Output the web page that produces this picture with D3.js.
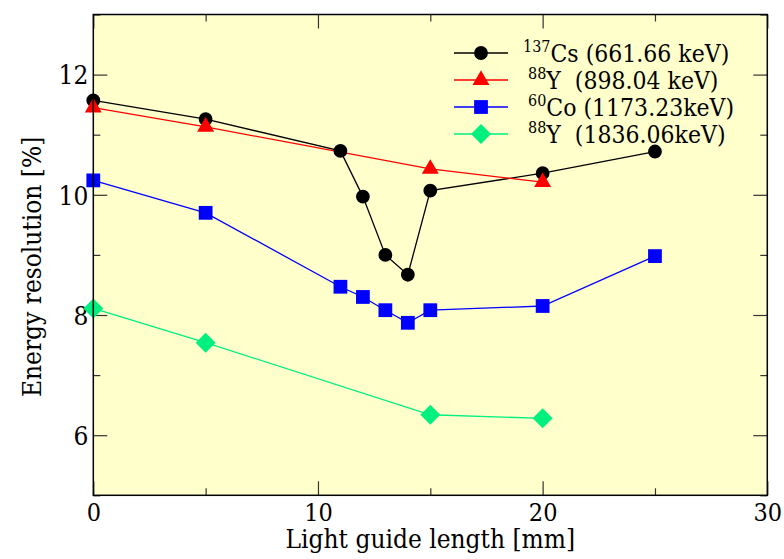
<!DOCTYPE html>
<html>
<head>
<meta charset="utf-8">
<script src="https://cdn.jsdelivr.net/npm/d3@7"></script>
<style>
  html, body { margin: 0; padding: 0; background: #fff; }
  svg text { font-family: "DejaVu Serif Condensed", "DejaVu Serif", serif !important; font-stretch: condensed; }
</style>
</head>
<body>
<div id="chart"></div>
<script>
// light guide length [mm] vs energy resolution [%]
const csLength = [0, 5, 11, 12, 13, 14, 15, 20, 25];
const csResolution = [11.57, 11.26, 10.73, 9.97, 9.0, 8.67, 10.07, 10.36, 10.72];

const y898Length = [0, 5, 15, 20];
const y898Resolution = [11.45, 11.13, 10.43, 10.21];

const coLength = [0, 5, 11, 12, 13, 14, 15, 20, 25];
const coResolution = [10.24, 9.70, 8.47, 8.30, 8.08, 7.87, 8.08, 8.15, 8.98];

const y1836Length = [0, 5, 15, 20];
const y1836Resolution = [8.11, 7.54, 6.34, 6.28];

const xTicks = [0, 10, 20, 30];
const xMinorTicks = [5, 15, 25];
const yTicks = [6, 8, 10, 12];
const yMinorTicks = [5, 7, 9, 11, 13];

const series = [
  { iso: "137", name: "Cs (661.66 keV)", color: "#000000", symbol: "circle", xs: csLength, ys: csResolution },
  { iso: "88", name: "Y\u00a0\u00a0(898.04 keV)", color: "#ff0000", symbol: "triangle", xs: y898Length, ys: y898Resolution },
  { iso: "60", name: "Co (1173.23keV)", color: "#0000ff", symbol: "square", xs: coLength, ys: coResolution },
  { iso: "88", name: "Y\u00a0\u00a0(1836.06keV)", color: "#00f080", symbol: "diamond", xs: y1836Length, ys: y1836Resolution },
];

const width = 784;
const height = 559;
const margin = { top: 14.5, right: 16.7, bottom: 63.7, left: 93.3 };
const innerW = width - margin.left - margin.right;
const innerH = height - margin.top - margin.bottom;

const x = d3.scaleLinear().domain([0, 30]).range([0, innerW]);
const y = d3.scaleLinear().domain([5, 13]).range([innerH, 0]);

const svg = d3.select("#chart")
  .append("svg")
  .attr("width", width)
  .attr("height", height);

const g = svg.append("g")
  .attr("transform", `translate(${margin.left},${margin.top})`);

g.append("rect")
  .attr("width", innerW)
  .attr("height", innerH)
  .attr("fill", "#ffffcc");

// ticks on all four sides, pointing inward
function drawTicks(axisFn, scale, values, size, transform) {
  const axis = g.append("g")
    .attr("transform", transform)
    .call(axisFn(scale).tickValues(values).tickSize(size).tickFormat(""));
  axis.select(".domain").remove();
  axis.selectAll(".tick line").attr("stroke", "#333").attr("stroke-width", 1.2);
}

drawTicks(d3.axisTop, x, xTicks, 14, `translate(0,${innerH})`);
drawTicks(d3.axisTop, x, xMinorTicks, 7, `translate(0,${innerH})`);
drawTicks(d3.axisBottom, x, xTicks, 14, "translate(0,0)");
drawTicks(d3.axisBottom, x, xMinorTicks, 7, "translate(0,0)");
drawTicks(d3.axisRight, y, yTicks, 14, "translate(0,0)");
drawTicks(d3.axisRight, y, yMinorTicks, 7, "translate(0,0)");
drawTicks(d3.axisLeft, y, yTicks, 14, `translate(${innerW},0)`);
drawTicks(d3.axisLeft, y, yMinorTicks, 7, `translate(${innerW},0)`);

// tick labels
const xLabels = g.append("g")
  .attr("transform", `translate(0,${innerH})`)
  .call(d3.axisBottom(x).tickValues(xTicks).tickSize(0).tickPadding(0).tickFormat(d3.format("d")));
xLabels.select(".domain").remove();
xLabels.selectAll(".tick text")
  .attr("font-size", 25)
  .attr("fill", "#000")
  .attr("dy", null)
  .attr("y", 26);

const yLabels = g.append("g")
  .call(d3.axisLeft(y).tickValues(yTicks).tickSize(0).tickPadding(5).tickFormat(d3.format("d")));
yLabels.select(".domain").remove();
yLabels.selectAll(".tick text")
  .attr("font-size", 26)
  .attr("fill", "#000")
  .attr("dy", "0.36em");

// axis titles
svg.append("text")
  .attr("x", margin.left + innerW / 2)
  .attr("y", 548)
  .attr("text-anchor", "middle")
  .attr("font-size", 26)
  .text("Light guide length [mm]");

svg.append("text")
  .attr("transform", `translate(41,${margin.top + innerH / 2 + 12}) rotate(-90)`)
  .attr("text-anchor", "middle")
  .attr("font-size", 26)
  .text("Energy resolution [%]");

const symbols = {
  circle: d3.symbol().type(d3.symbolCircle).size(150),
  triangle: d3.symbol().type(d3.symbolTriangle).size(125),
  square: d3.symbol().type(d3.symbolSquare).size(190),
  diamond: d3.symbol().type(d3.symbolSquare).size(200),
};
const symbolRotation = { circle: 0, triangle: 0, square: 0, diamond: 45 };

const line = d3.line()
  .x((d) => x(d[0]))
  .y((d) => y(d[1]));

series.forEach((s) => {
  const points = s.xs.map((v, i) => [v, s.ys[i]]);
  g.append("path")
    .datum(points)
    .attr("fill", "none")
    .attr("stroke", s.color)
    .attr("stroke-width", 1.3)
    .attr("d", line);
});

series.forEach((s) => {
  const points = s.xs.map((v, i) => [v, s.ys[i]]);
  g.append("g")
    .selectAll("path")
    .data(points)
    .join("path")
    .attr("transform", (d) => `translate(${x(d[0])},${y(d[1])}) rotate(${symbolRotation[s.symbol]})`)
    .attr("fill", s.color)
    .attr("d", symbols[s.symbol]);
});

// frame
g.append("rect")
  .attr("width", innerW)
  .attr("height", innerH)
  .attr("fill", "none")
  .attr("stroke", "#000")
  .attr("stroke-width", 1.5);

// legend
const legend = svg.append("g").attr("transform", "translate(454,53)");
series.forEach((s, i) => {
  const row = legend.append("g").attr("transform", `translate(0,${i * 27})`);
  row.append("line")
    .attr("x1", 0).attr("x2", 54)
    .attr("stroke", s.color)
    .attr("stroke-width", 1.3);
  row.append("path")
    .attr("transform", `translate(27,0) rotate(${symbolRotation[s.symbol]})`)
    .attr("fill", s.color)
    .attr("d", symbols[s.symbol]);
  const label = row.append("text")
    .attr("x", s.iso.length === 3 ? 69 : 74)
    .attr("y", 9)
    .attr("font-size", 24.5);
  label.append("tspan")
    .attr("font-size", 16)
    .attr("dy", -10)
    .text(s.iso);
  label.append("tspan")
    .attr("dy", 10)
    .text(s.name);
});
</script>
</body>
</html>
